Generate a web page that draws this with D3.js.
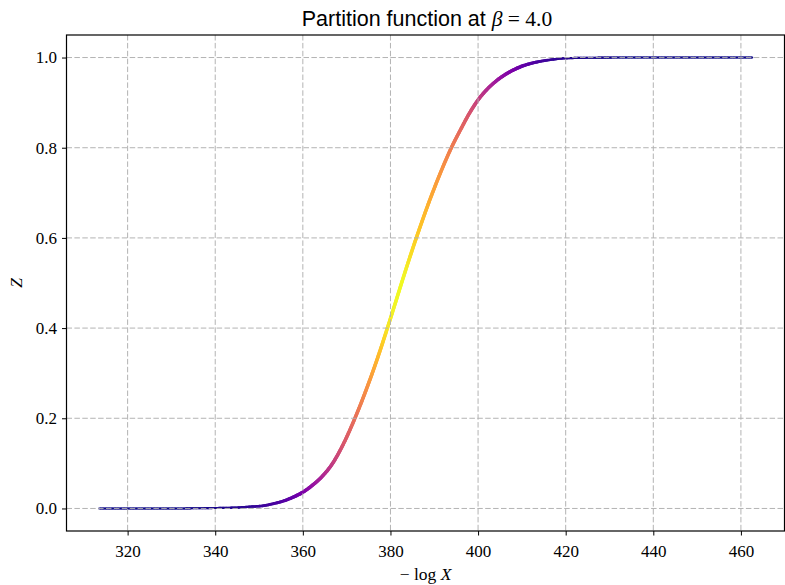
<!DOCTYPE html>
<html>
<head>
<meta charset="utf-8">
<script src="https://cdn.jsdelivr.net/npm/d3@7"></script>
<style>
  body { margin: 0; background: #fff; }
  svg { display: block; }
  .tick-label { font-family: "Liberation Serif", "DejaVu Serif", serif; font-size: 17px; fill: #000; }
</style>
</head>
<body>
<svg id="chart" width="785" height="585"></svg>
<script>
// values
const logX = [313.5, 320, 330, 340, 345, 348, 351, 353, 355.4, 358, 360, 362, 364.5, 366.8, 369, 371.8,
              374.8, 377.8, 379.3, 381, 382.7, 385.9, 389.6, 392, 394, 396, 398, 400, 402, 404, 406,
              408.6, 411, 413.9, 416.5, 419.2, 425, 435, 450, 462.6];
const Z    = [0, 0, 0, 0.001, 0.002, 0.004, 0.006, 0.01, 0.016, 0.026, 0.036, 0.05, 0.072, 0.1, 0.138, 0.198,
              0.272, 0.355, 0.4, 0.452, 0.505, 0.6, 0.7, 0.758, 0.802, 0.84, 0.876, 0.906, 0.929, 0.947, 0.961,
              0.975, 0.984, 0.991, 0.995, 0.998, 0.9995, 1, 1, 1];
// colour weight along the curve (plasma colormap)
const weight = [0, 0, 0, 0.02, 0.04, 0.06, 0.09, 0.11, 0.14, 0.19, 0.24, 0.3, 0.38, 0.46, 0.54, 0.63,
                0.74, 0.87, 0.95, 0.99, 1.0, 0.9, 0.8, 0.74, 0.68, 0.62, 0.55, 0.48, 0.41, 0.35, 0.29,
                0.23, 0.17, 0.12, 0.08, 0.05, 0.02, 0, 0, 0];
const xTicks = [320, 340, 360, 380, 400, 420, 440, 460];
const yTicks = [0.0, 0.2, 0.4, 0.6, 0.8, 1.0];

const svg = d3.select("#chart");
const mLeft = 66.5, mRight = 784.5, mTop = 35, mBottom = 531;

const x = d3.scaleLinear().domain([306.05, 469.95]).range([mLeft, mRight]);
const y = d3.scaleLinear().domain([-0.05, 1.05]).range([mBottom, mTop]);
const wScale = d3.scaleLinear().domain(logX).range(weight);

const data = logX.map((v, i) => ({ x: v, z: Z[i] }));

// smooth path, then cut into short coloured pieces
const line = d3.line().x(d => x(d.x)).y(d => y(d.z)).curve(d3.curveMonotoneX);
const helper = svg.append("path").attr("d", line(data)).attr("fill", "none").attr("stroke", "none");
const total = helper.node().getTotalLength();
const pts = [];
for (let l = 0; l <= total; l += 1.5) pts.push(helper.node().getPointAtLength(l));
pts.push(helper.node().getPointAtLength(total));
helper.remove();

const curve = svg.append("g");
for (let i = 0; i < pts.length - 1; i++) {
    const p = pts[i], q = pts[i + 1];
    const t = wScale(x.invert((p.x + q.x) / 2));
    curve.append("line")
        .attr("x1", p.x).attr("y1", p.y).attr("x2", q.x).attr("y2", q.y)
        .attr("stroke", d3.interpolatePlasma(t))
        .attr("stroke-width", 2 + 1.5 * Math.min(1, t / 0.2))
        .attr("stroke-linecap", "round");
}

// grid (drawn over the curve)
const grid = svg.append("g").attr("stroke", "#b0b0b0").attr("stroke-width", 1)
    .attr("stroke-dasharray", "5.5,2.4").attr("opacity", 0.95);
xTicks.forEach(v => grid.append("line")
    .attr("x1", x(v)).attr("x2", x(v)).attr("y1", mTop).attr("y2", mBottom));
yTicks.forEach(v => grid.append("line")
    .attr("x1", mLeft).attr("x2", mRight).attr("y1", y(v)).attr("y2", y(v)));

// axes
const xAxis = svg.append("g").attr("transform", `translate(0,${mBottom})`)
    .call(d3.axisBottom(x).tickValues(xTicks).tickSize(4.5).tickPadding(6).tickFormat(d3.format("d")));
const yAxis = svg.append("g").attr("transform", `translate(${mLeft},0)`)
    .call(d3.axisLeft(y).tickValues(yTicks).tickSize(4.5).tickPadding(5).tickFormat(d3.format(".1f")));
[xAxis, yAxis].forEach(a => {
    a.select(".domain").remove();
    a.selectAll(".tick line").attr("stroke", "#000").attr("stroke-width", 1);
    a.selectAll(".tick text").attr("class", "tick-label").attr("font-family", null).attr("font-size", null);
});
xAxis.selectAll(".tick text").attr("dy", "0.9em");

svg.append("rect")
    .attr("x", mLeft).attr("y", mTop).attr("width", mRight - mLeft).attr("height", mBottom - mTop)
    .attr("fill", "none").attr("stroke", "#000").attr("stroke-width", 1.2);

// title
const title = svg.append("text").attr("x", 427).attr("y", 26).attr("text-anchor", "middle")
    .attr("font-size", "21.5px");
title.append("tspan").attr("font-family", "Liberation Sans, Arial, sans-serif").text("Partition function at ");
title.append("tspan").attr("font-family", "Liberation Serif, DejaVu Serif, serif")
    .attr("font-style", "italic").text("β");
title.append("tspan").attr("font-family", "Liberation Serif, DejaVu Serif, serif").text(" = 4.0");

// axis labels
const xl = svg.append("text").attr("x", (mLeft + mRight) / 2).attr("y", 580).attr("text-anchor", "middle")
    .attr("font-family", "Liberation Serif, DejaVu Serif, serif").attr("font-size", "17.5px");
xl.append("tspan").text("− log ");
xl.append("tspan").attr("font-style", "italic").text("X");

svg.append("text").attr("transform", `translate(22,${(mTop + mBottom) / 2}) rotate(-90)`)
    .attr("text-anchor", "middle").attr("font-family", "Liberation Serif, DejaVu Serif, serif")
    .attr("font-style", "italic").attr("font-size", "17.5px").text("Z");
</script>
</body>
</html>
